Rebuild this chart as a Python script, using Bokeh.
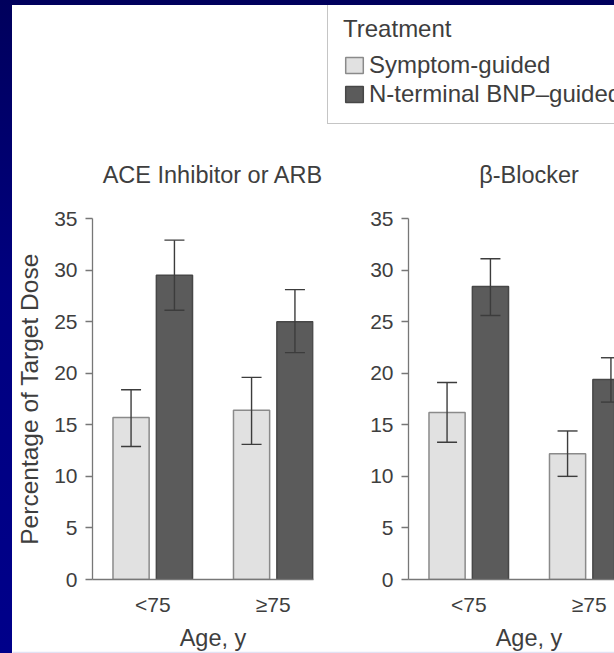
from bokeh.plotting import figure
from bokeh.layouts import row, column
from bokeh.models import (ColumnDataSource, FixedTicker, Whisker, TeeHead,
                          Label, Legend, LegendItem)
from bokeh.embed import file_html
from bokeh.resources import INLINE

# ---- data -------------------------------------------------------------
age_groups = ["<75", "≥75"]
treatments = ["Symptom-guided", "N-terminal BNP–guided"]
panel_titles = ["ACE Inhibitor or ARB", "β-Blocker"]

ace_symptom = [15.7, 16.4]
ace_symptom_lo = [12.9, 13.1]
ace_symptom_hi = [18.4, 19.6]
ace_ntbnp = [29.5, 25.0]
ace_ntbnp_lo = [26.1, 22.0]
ace_ntbnp_hi = [32.9, 28.1]

bb_symptom = [16.2, 12.2]
bb_symptom_lo = [13.3, 10.0]
bb_symptom_hi = [19.1, 14.4]
bb_ntbnp = [28.4, 19.4]
bb_ntbnp_lo = [25.6, 17.2]
bb_ntbnp_hi = [31.1, 21.5]

y_ticks = [0, 5, 10, 15, 20, 25, 30, 35]

# ---- style ------------------------------------------------------------
FONT = "Liberation Sans"
TEXT = "#3e3e3e"
AXIS = "#777777"
LIGHT, LIGHT_EDGE = "#e1e1e1", "#8a8a8a"
DARK, DARK_EDGE = "#5b5b5b", "#474747"
ERR = "#3c3c3c"
OFFSET, BAR_W = 0.18, 0.30
PX_PER_GROUP = 120.5          # horizontal distance between the age groups


def blank(width, height, bottom=0, bottom_color="white"):
    """A white strip with no axes; used for the header and the footer."""
    p = figure(width=width, height=height, x_range=(0, 1), y_range=(0, 1),
               x_axis_type=None, y_axis_type=None,
               output_backend="svg", toolbar_location=None,
               min_border=0, min_border_bottom=bottom,
               outline_line_color=None,
               background_fill_color="white", border_fill_color=bottom_color)
    p.grid.visible = False
    return p


def caption(text, x, y):
    return Label(x=x, y=y, x_units="screen", y_units="screen", text=text,
                 text_align="center", text_baseline="alphabetic",
                 text_font=FONT, text_font_size="23.5px", text_color=TEXT)


def make_panel(sym, sym_lo, sym_hi, nt, nt_lo, nt_hi,
               width, border_left, border_right, frame_w, y_label):
    p = figure(width=width, height=420,
               x_range=(-0.5, -0.5 + frame_w / PX_PER_GROUP), y_range=(0, 35),
               output_backend="svg", toolbar_location=None,
               min_border_top=18, min_border_bottom=41,
               min_border_left=border_left, min_border_right=border_right,
               outline_line_color=None, background_fill_color="white",
               border_fill_color="white")
    p.grid.visible = False

    xs = list(range(len(age_groups)))
    p.vbar(x=[x - OFFSET for x in xs], top=sym, width=BAR_W,
           fill_color=LIGHT, line_color=LIGHT_EDGE, line_width=1.5)
    p.vbar(x=[x + OFFSET for x in xs], top=nt, width=BAR_W,
           fill_color=DARK, line_color=DARK_EDGE, line_width=1.5)

    err = ColumnDataSource(dict(
        base=[x - OFFSET for x in xs] + [x + OFFSET for x in xs],
        lower=sym_lo + nt_lo,
        upper=sym_hi + nt_hi,
    ))
    p.add_layout(Whisker(
        base="base", lower="lower", upper="upper", source=err,
        line_color=ERR, line_width=1.4, level="overlay",
        upper_head=TeeHead(size=20, line_color=ERR, line_width=1.4),
        lower_head=TeeHead(size=20, line_color=ERR, line_width=1.4)))

    # x axis: age groups
    xa = p.xaxis[0]
    xa.ticker = FixedTicker(ticks=xs)
    xa.major_label_overrides = {i: g for i, g in enumerate(age_groups)}
    xa.major_tick_out = 0
    xa.major_tick_in = 0
    xa.minor_tick_out = 0
    xa.minor_tick_in = 0
    xa.axis_line_color = AXIS
    xa.axis_line_width = 1.3
    xa.major_label_text_font = FONT
    xa.major_label_text_font_size = "21px"
    xa.major_label_text_color = TEXT
    xa.major_label_standoff = 13

    # y axis: percentage of target dose
    ya = p.yaxis[0]
    ya.ticker = FixedTicker(ticks=y_ticks)
    ya.major_tick_out = 7
    ya.major_tick_in = 0
    ya.minor_tick_out = 0
    ya.minor_tick_in = 0
    ya.axis_line_color = AXIS
    ya.axis_line_width = 1.3
    ya.major_tick_line_color = AXIS
    ya.major_tick_line_width = 1.3
    ya.major_label_text_font = FONT
    ya.major_label_text_font_size = "21px"
    ya.major_label_text_color = TEXT
    ya.major_label_standoff = 8
    if y_label:
        ya.axis_label = y_label
        ya.axis_label_text_font = FONT
        ya.axis_label_text_font_size = "24.5px"
        ya.axis_label_text_font_style = "normal"
        ya.axis_label_text_color = TEXT
        ya.axis_label_standoff = 8
    return p


p_ace = make_panel(ace_symptom, ace_symptom_lo, ace_symptom_hi,
                   ace_ntbnp, ace_ntbnp_lo, ace_ntbnp_hi,
                   width=308, border_left=80, border_right=7, frame_w=221,
                   y_label="Percentage of Target Dose")
p_bb = make_panel(bb_symptom, bb_symptom_lo, bb_symptom_hi,
                  bb_ntbnp, bb_ntbnp_lo, bb_ntbnp_hi,
                  width=294, border_left=88, border_right=0, frame_w=206,
                  y_label=None)

# centre of each panel, midway between its two age groups (header coords)
centers = [80 + 0.5 * PX_PER_GROUP + 0.5 * PX_PER_GROUP,
           308 + 88 + 0.5 * PX_PER_GROUP + 0.5 * PX_PER_GROUP]

# ---- header: treatment legend and panel titles -----------------------
header = blank(602, 195)
# hidden copies of the two series carry the legend swatches
sw_sym = header.vbar(x=[0, 1], top=bb_symptom, width=0.1, fill_color=LIGHT,
                     line_color=LIGHT_EDGE, line_width=1.5, visible=False)
sw_nt = header.vbar(x=[0, 1], top=bb_ntbnp, width=0.1, fill_color=DARK,
                    line_color=DARK_EDGE, line_width=1.5, visible=False)
legend = Legend(
    items=[LegendItem(label=treatments[0], renderers=[sw_sym]),
           LegendItem(label=treatments[1], renderers=[sw_nt])],
    title="Treatment", location=(315, 76), orientation="vertical",
    click_policy="none",
    border_line_color="#8c8c8c", border_line_width=1,
    background_fill_color="white", background_fill_alpha=1.0,
    inactive_fill_alpha=0.0,
    label_text_font=FONT, label_text_font_size="24px", label_text_color=TEXT,
    title_text_font=FONT, title_text_font_size="24px", title_text_color=TEXT,
    title_text_font_style="normal", title_standoff=8,
    glyph_width=22, glyph_height=20, label_standoff=4, spacing=1,
    padding=15, margin=0,
)
header.add_layout(legend)
for t, cx in zip(panel_titles, centers):
    header.add_layout(caption(t, cx, 26))

# ---- footer: x-axis captions, with a pale rule along the bottom edge ---
footer = blank(602, 33, bottom=2, bottom_color="#e2e2f4")
for cx in centers:
    footer.add_layout(caption("Age, y", cx, 14))

charts = row(p_ace, p_bb)
sheet = column(header, charts, footer, margin=(5, 0, 0, 12),
               styles={"background": "white"})
page = row(sheet, styles={
    "background": "linear-gradient(180deg, #00005c 0%, #000080 45%, #00008a 100%)",
})

open("out.html", "w").write(file_html(page, INLINE))
